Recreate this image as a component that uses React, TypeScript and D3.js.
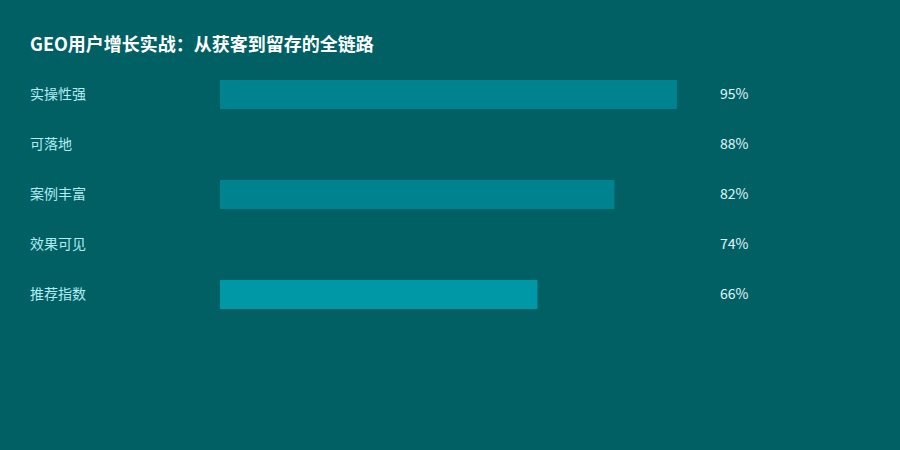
import React, { useRef, useEffect } from 'react';
import * as d3 from 'd3';

const title = 'GEO用户增长实战：从获客到留存的全链路';
const categories = ['实操性强', '可落地', '案例丰富', '效果可见', '推荐指数'];
const values = [95, 88, 82, 74, 66];
const barColors = ['#00838f', '#006064', '#00838f', '#006064', '#0097a7'];

const W = 900;
const H = 450;
const BG = '#006064';
const FONT = '"Noto Sans CJK SC", "Noto Sans", sans-serif';

const App: React.FC = () => {
  const svgRef = useRef<SVGSVGElement>(null);

  useEffect(() => {
    document.body.style.margin = '0';
    if (!svgRef.current) return;
    const svg = d3.select(svgRef.current);
    svg.selectAll('*').remove();

    svg.append('rect').attr('width', W).attr('height', H).attr('fill', BG);

    svg.append('text')
      .attr('x', 30).attr('y', 51)
      .attr('fill', '#ffffff')
      .attr('font-family', FONT)
      .attr('font-size', '18px')
      .attr('font-weight', 700)
      .text(title);

    const x = d3.scaleLinear().domain([0, 100]).range([220, 701]);
    const y = d3.scalePoint<string>().domain(categories).range([94.5, 294.5]);
    const barH = 29;

    const rows = svg.append('g')
      .selectAll('g')
      .data(categories)
      .enter().append('g');

    rows.append('rect')
      .attr('x', x(0))
      .attr('y', (d) => (y(d) || 0) - barH / 2)
      .attr('width', (_, i) => x(values[i]) - x(0))
      .attr('height', barH)
      .attr('fill', (_, i) => barColors[i]);

    rows.append('text')
      .attr('x', 30)
      .attr('y', (d) => y(d) || 0)
      .attr('dy', '0.35em')
      .attr('fill', '#b2ebf2')
      .attr('font-family', FONT)
      .attr('font-size', '14px')
      .text((d) => d);

    rows.append('text')
      .attr('x', 720)
      .attr('y', (d) => y(d) || 0)
      .attr('dy', '0.35em')
      .attr('fill', '#e0f7fa')
      .attr('font-family', FONT)
      .attr('font-size', '14px')
      .text((_, i) => `${values[i]}%`);
  }, []);

  return <svg ref={svgRef} width={W} height={H} style={{ display: 'block' }} />;
};

export default App;
